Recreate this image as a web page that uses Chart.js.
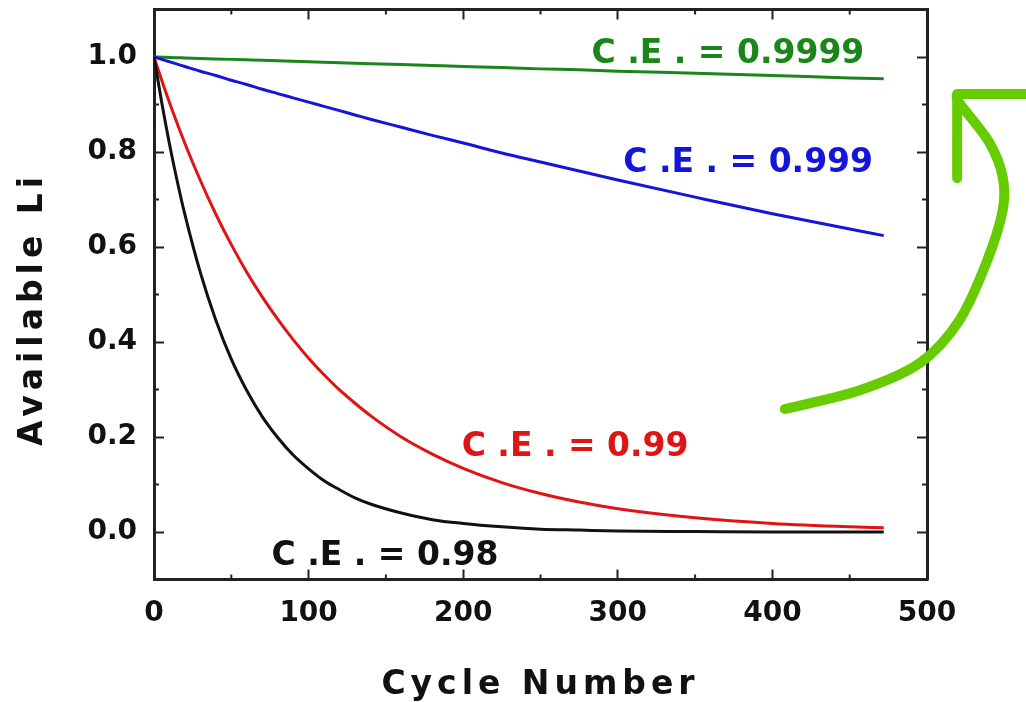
<!DOCTYPE html>
<html>
<head>
<meta charset="utf-8">
<script src="https://cdn.jsdelivr.net/npm/chart.js@4.4.1/dist/chart.umd.min.js"></script>
<style>
  html, body { margin: 0; padding: 0; background: #fff; }
  #wrap { width: 1026px; height: 702px; }
</style>
</head>
<body>
<div id="wrap"><canvas id="liChart" width="1026" height="702"></canvas></div>
<script>
// cycle numbers the curves were read at
const cycles = [0, 5, 10, 15, 20, 30, 40, 50, 60, 70, 80, 90, 100, 110, 120, 130, 140, 160, 180, 200, 225, 250, 275, 300, 350, 400, 450, 472];

// available Li fraction
const ce9999 = [1, 0.9995, 0.999, 0.9985, 0.998, 0.997, 0.996, 0.995, 0.994, 0.993, 0.992, 0.991, 0.990, 0.989, 0.988, 0.987, 0.986, 0.984, 0.982, 0.980, 0.978, 0.975, 0.973, 0.970, 0.966, 0.961, 0.956, 0.954];
const ce999 = [1, 0.995, 0.990, 0.985, 0.980, 0.970, 0.961, 0.951, 0.942, 0.932, 0.923, 0.914, 0.905, 0.896, 0.887, 0.878, 0.869, 0.852, 0.835, 0.819, 0.798, 0.779, 0.760, 0.741, 0.705, 0.670, 0.638, 0.624];
const ce99 = [1, 0.951, 0.904, 0.860, 0.818, 0.740, 0.669, 0.605, 0.547, 0.495, 0.448, 0.405, 0.366, 0.331, 0.299, 0.271, 0.245, 0.200, 0.164, 0.134, 0.104, 0.081, 0.063, 0.049, 0.030, 0.018, 0.011, 0.009];
const ce98 = [1, 0.904, 0.817, 0.739, 0.668, 0.546, 0.446, 0.364, 0.298, 0.243, 0.199, 0.162, 0.133, 0.108, 0.089, 0.072, 0.059, 0.040, 0.026, 0.018, 0.011, 0.006, 0.004, 0.002, 0.001, 0, 0, 0];

// axis ticks
const xTicks = [0, 100, 200, 300, 400, 500];
const yTicks = [0, 0.2, 0.4, 0.6, 0.8, 1.0];
const xMinor = [50, 150, 250, 350, 450];
const yMinor = [0.1, 0.3, 0.5, 0.7, 0.9];

// curve labels (text, colour, left x / baseline y in data units)
const labelText = ['C .E . = 0.9999', 'C .E . = 0.999', 'C .E . = 0.99', 'C .E . = 0.98'];
const labelColor = ['#1a861a', '#1414dc', '#e01414', '#111111'];
const labelX = [283, 303.5, 199, 76];
const labelY = [0.987, 0.758, 0.16, -0.069];

// hand drawn green arrow, in data units
const arrowX = [408, 457, 495.5, 521, 539, 549, 549, 540.5, 521, 519.5];
const arrowY = [0.259, 0.299, 0.356, 0.446, 0.572, 0.678, 0.747, 0.819, 0.903, 0.92];
const arrowHeadX = [519.5, 519.5, 567];
const arrowHeadY = [0.745, 0.922, 0.922];

const FONT = '"DejaVu Sans", Verdana, sans-serif';
const INK = '#222';

function series(values) {
  return cycles.map((c, i) => ({ x: c, y: values[i] }));
}

function line(label, values, color) {
  return {
    label: label,
    data: series(values),
    borderColor: color,
    borderWidth: 3,
    pointRadius: 0,
    fill: false,
    cubicInterpolationMode: 'monotone'
  };
}

// letter spacing on the axis titles, y title nudged down a bit
const titleStyle = {
  id: 'titleStyle',
  beforeDraw(chart) {
    Object.values(chart.scales).forEach(scale => {
      if (scale._styled) return;
      const orig = scale.drawTitle;
      scale.drawTitle = function () {
        const ctx = this.ctx;
        ctx.save();
        ctx.letterSpacing = '5px';
        if (this.id === 'y') ctx.translate(0, 14.5);
        orig.call(this);
        ctx.restore();
      };
      scale._styled = true;
    });
  }
};

// minor ticks on all four sides of the frame
const minorTicks = {
  id: 'minorTicks',
  afterDraw(chart) {
    const { ctx, chartArea: a, scales: { x, y } } = chart;
    ctx.save();
    ctx.strokeStyle = INK;
    ctx.lineWidth = 2;
    ctx.beginPath();
    xMinor.forEach(v => {
      const px = x.getPixelForValue(v);
      ctx.moveTo(px, a.bottom); ctx.lineTo(px, a.bottom - 5);
      ctx.moveTo(px, a.top); ctx.lineTo(px, a.top + 5);
    });
    yMinor.forEach(v => {
      const py = y.getPixelForValue(v);
      ctx.moveTo(a.left, py); ctx.lineTo(a.left + 5, py);
      ctx.moveTo(a.right, py); ctx.lineTo(a.right - 5, py);
    });
    ctx.stroke();
    ctx.restore();
  }
};

// curve labels and the green arrow
const annotations = {
  id: 'annotations',
  afterDraw(chart) {
    const { ctx, scales: { x, y } } = chart;
    ctx.save();
    ctx.font = 'bold 33px ' + FONT;
    ctx.textAlign = 'left';
    ctx.textBaseline = 'alphabetic';
    labelText.forEach((t, i) => {
      ctx.fillStyle = labelColor[i];
      ctx.fillText(t, x.getPixelForValue(labelX[i]), y.getPixelForValue(labelY[i]));
    });

    // catmull-rom through the arrow points
    const p = arrowX.map((v, i) => [x.getPixelForValue(v), y.getPixelForValue(arrowY[i])]);
    ctx.strokeStyle = '#66cc00';
    ctx.lineWidth = 10;
    ctx.lineCap = 'round';
    ctx.lineJoin = 'round';
    ctx.beginPath();
    ctx.moveTo(p[0][0], p[0][1]);
    for (let i = 0; i < p.length - 1; i++) {
      const p0 = p[i - 1] || p[i], p1 = p[i], p2 = p[i + 1], p3 = p[i + 2] || p[i + 1];
      ctx.bezierCurveTo(
        p1[0] + (p2[0] - p0[0]) / 6, p1[1] + (p2[1] - p0[1]) / 6,
        p2[0] - (p3[0] - p1[0]) / 6, p2[1] - (p3[1] - p1[1]) / 6,
        p2[0], p2[1]
      );
    }
    ctx.stroke();

    ctx.beginPath();
    arrowHeadX.forEach((v, i) => {
      const px = x.getPixelForValue(v), py = y.getPixelForValue(arrowHeadY[i]);
      if (i === 0) ctx.moveTo(px, py); else ctx.lineTo(px, py);
    });
    ctx.stroke();
    ctx.restore();
  }
};

const frameGrid = {
  display: true,
  drawOnChartArea: false,
  drawTicks: true,
  tickLength: -10,
  tickWidth: 2,
  tickColor: INK
};
const frameBorder = { display: true, width: 3, color: INK };
const tickFont = { family: FONT, size: 28, weight: 'bold' };
const titleFont = { family: FONT, size: 33, weight: 'bold', lineHeight: 1 };

const ctx = document.getElementById('liChart').getContext('2d');
const chart = new Chart(ctx, {
  type: 'line',
  data: {
    datasets: [
      line('C.E. = 0.98', ce98, '#111111'),
      line('C.E. = 0.99', ce99, '#e01414'),
      line('C.E. = 0.999', ce999, '#1414dc'),
      line('C.E. = 0.9999', ce9999, '#1a861a')
    ]
  },
  options: {
    responsive: false,
    devicePixelRatio: 1,
    animation: false,
    layout: { padding: { top: 9.5, right: 99, bottom: 0, left: 0 } },
    plugins: { legend: { display: false }, tooltip: { enabled: false } },
    scales: {
      x: {
        type: 'linear',
        position: 'bottom',
        min: 0,
        max: 500,
        afterBuildTicks: s => { s.ticks = xTicks.map(v => ({ value: v })); },
        afterFit: s => { s.height = 122.5; s.paddingLeft = 0; s.paddingRight = 0; },
        grid: frameGrid,
        border: frameBorder,
        ticks: { font: tickFont, color: '#111', padding: 27, maxRotation: 0, callback: v => String(v) },
        title: { display: true, text: 'Cycle Number', font: titleFont, color: '#111', padding: { top: 0, bottom: 0 } }
      },
      x2: {
        type: 'linear',
        position: 'top',
        min: 0,
        max: 500,
        afterBuildTicks: s => { s.ticks = xTicks.map(v => ({ value: v })); },
        afterFit: s => { s.height = 0; s.paddingLeft = 0; s.paddingRight = 0; },
        grid: frameGrid,
        border: frameBorder,
        ticks: { display: false }
      },
      y: {
        type: 'linear',
        position: 'left',
        min: -0.1,
        max: 1.1,
        afterBuildTicks: s => { s.ticks = yTicks.map(v => ({ value: v })); },
        afterFit: s => { s.width = 154; s.paddingTop = 0; s.paddingBottom = 0; },
        grid: frameGrid,
        border: frameBorder,
        ticks: { font: tickFont, color: '#111', padding: 27, callback: v => Number(v).toFixed(1) },
        title: { display: true, text: 'Available Li', font: titleFont, color: '#111', padding: { top: 16.5, bottom: 0 } }
      },
      y2: {
        type: 'linear',
        position: 'right',
        min: -0.1,
        max: 1.1,
        afterBuildTicks: s => { s.ticks = yTicks.map(v => ({ value: v })); },
        afterFit: s => { s.width = 0; s.paddingTop = 0; s.paddingBottom = 0; },
        grid: frameGrid,
        border: frameBorder,
        ticks: { display: false }
      }
    }
  },
  plugins: [titleStyle, minorTicks, annotations]
});
</script>
</body>
</html>
